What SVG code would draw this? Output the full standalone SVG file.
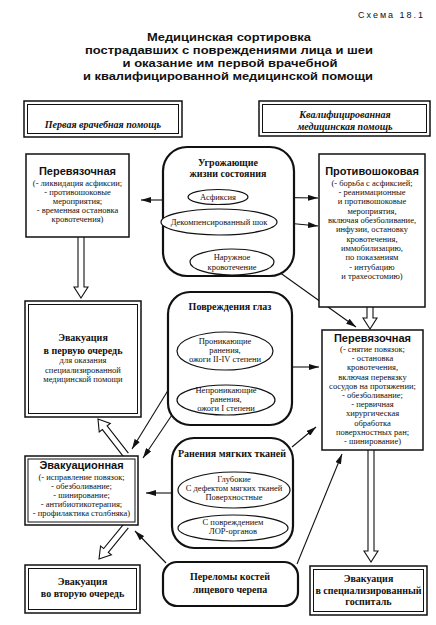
<svg xmlns="http://www.w3.org/2000/svg" width="436" height="625" viewBox="0 0 436 625">
<defs>
<marker id="ah" viewBox="0 0 10 6" refX="10" refY="3" markerWidth="10" markerHeight="6" markerUnits="userSpaceOnUse" orient="auto">
<path d="M0,0 L10,3 L0,6 Z" fill="#111"/>
</marker>
</defs>
<style>
.bg{fill:#fff}
.box{fill:#fff;stroke:#111;stroke-width:1.5}
.thin{fill:none;stroke:#111;stroke-width:1}
.rbox{fill:#fff;stroke:#111;stroke-width:2.2}
.ell{fill:#fff;stroke:#111;stroke-width:1.2}
.ln{fill:none;stroke:#111;stroke-width:1.1;marker-end:url(#ah)}
.dbl{fill:#fff;stroke:#111;stroke-width:1.1}
.ttl{font-family:"Liberation Sans",Arial,sans-serif;font-weight:bold;font-size:11.2px;fill:#111;text-anchor:middle}
.sch{font-family:"Liberation Sans",Arial,sans-serif;font-size:9px;fill:#111;letter-spacing:2px}
.hdr{font-family:"Liberation Serif","Times New Roman",serif;font-weight:bold;font-style:italic;font-size:10px;fill:#111;text-anchor:middle}
.bh{font-family:"Liberation Sans",Arial,sans-serif;font-weight:bold;font-size:11px;fill:#111;text-anchor:middle}
.bs{font-family:"Liberation Serif","Times New Roman",serif;font-weight:bold;font-size:10px;fill:#111;text-anchor:middle}
.t{font-family:"Liberation Serif","Times New Roman",serif;font-size:8.5px;fill:#111;text-anchor:middle}
</style>
<rect class="bg" x="0" y="0" width="436" height="625"/>

<g id="title">
<text class="sch" x="358" y="18">Схема 18.1</text>
<text class="ttl" x="229" y="41" textLength="164" lengthAdjust="spacingAndGlyphs">Медицинская сортировка</text>
<text class="ttl" x="229" y="54" textLength="288" lengthAdjust="spacingAndGlyphs">пострадавших с повреждениями лица и шеи</text>
<text class="ttl" x="230" y="67" textLength="215" lengthAdjust="spacingAndGlyphs">и оказание им первой врачебной</text>
<text class="ttl" x="228" y="80" textLength="290" lengthAdjust="spacingAndGlyphs">и квалифицированной медицинской помощи</text>
</g>

<g id="hdr-first">
<rect class="box" x="24" y="101" width="158" height="36"/>
<rect class="thin" x="27.5" y="104.5" width="151" height="29"/>
<text class="hdr" x="103" y="128">Первая врачебная помощь</text>
</g>
<g id="hdr-qual">
<rect class="box" x="259" y="101" width="171" height="35"/>
<rect class="thin" x="262.5" y="104.5" width="164" height="28"/>
<text class="hdr" x="345" y="118">Квалифицированная</text>
<text class="hdr" x="345" y="130">медицинская помощь</text>
</g>

<g id="connectors">
<path class="dbl" transform="translate(81,237) rotate(90)" d="M0,-3 L50,-3 L50,-7 L61,0 L50,7 L50,3 L0,3"/>
<path class="dbl" transform="translate(370,307) rotate(90)" d="M0,-3 L11,-3 L11,-7 L22,0 L11,7 L11,3 L0,3"/>
<path class="dbl" transform="translate(371,450) rotate(90)" d="M0,-3 L101,-3 L101,-7 L112,0 L101,7 L101,3 L0,3"/>
<path class="dbl" transform="translate(126,455) rotate(-127.9)" d="M0,-3 L34.6,-3 L34.6,-7 L45.6,0 L34.6,7 L34.6,3 L0,3"/>
<path class="dbl" transform="translate(126,526) rotate(129.3)" d="M0,-3 L31.6,-3 L31.6,-7 L42.6,0 L31.6,7 L31.6,3 L0,3"/>
<line class="ln" x1="163" y1="200" x2="141" y2="200"/>
<line class="ln" x1="248" y1="197" x2="318" y2="198"/>
<line class="ln" x1="276" y1="222" x2="318" y2="226"/>
<line class="ln" x1="272" y1="267" x2="356" y2="327"/>
<line class="ln" x1="292" y1="367" x2="319" y2="367"/>
<line class="ln" x1="292" y1="447" x2="316" y2="427"/>
<line class="ln" x1="297" y1="564" x2="342" y2="454"/>
<line class="ln" x1="183" y1="366" x2="132" y2="449"/>
<line class="ln" x1="178" y1="406" x2="143" y2="458"/>
<line class="ln" x1="172" y1="493" x2="146" y2="493"/>
<line class="ln" x1="166" y1="563" x2="135" y2="531"/>
</g>

<g id="perev-left">
<rect class="box" x="26" y="154" width="103" height="83"/>
<text class="bh" x="77.5" y="175">Перевязочная</text>
<text class="t" x="77.5" y="186">(- ликвидация асфиксии;</text>
<text class="t" x="77.5" y="195">- противошоковые</text>
<text class="t" x="77.5" y="204">мероприятия;</text>
<text class="t" x="77.5" y="213">- временная остановка</text>
<text class="t" x="77.5" y="222">кровотечения)</text>
</g>

<g id="threat">
<rect class="rbox" x="163" y="147" width="131" height="129" rx="24"/>
<text class="bs" x="228" y="166">Угрожающие</text>
<text class="bs" x="228" y="177">жизни состояния</text>
<ellipse class="ell" cx="218" cy="197" rx="30" ry="7.5"/>
<text class="t" x="218" y="200">Асфиксия</text>
<ellipse class="ell" cx="219" cy="222" rx="58" ry="13"/>
<text class="t" x="219" y="225">Декомпенсированный шок</text>
<ellipse class="ell" cx="232" cy="262" rx="42" ry="13"/>
<text class="t" x="232" y="260">Наружное</text>
<text class="t" x="232" y="270">кровотечение</text>
</g>

<g id="antishock">
<rect class="box" x="319" y="154" width="106" height="153"/>
<text class="bh" x="372" y="175">Противошоковая</text>
<text class="t" x="372" y="186">(- борьба с асфиксией;</text>
<text class="t" x="372" y="195">- реанимационные</text>
<text class="t" x="372" y="204">и противошоковые</text>
<text class="t" x="372" y="214">мероприятия,</text>
<text class="t" x="372" y="223">включая обезболивание,</text>
<text class="t" x="372" y="232">инфузии, остановку</text>
<text class="t" x="372" y="242">кровотечения,</text>
<text class="t" x="372" y="251">иммобилизацию,</text>
<text class="t" x="372" y="260">по показаниям</text>
<text class="t" x="372" y="270">- интубацию</text>
<text class="t" x="372" y="279">и трахеостомию)</text>
</g>

<g id="evac-first">
<rect class="box" x="25" y="301" width="116" height="116"/>
<rect class="thin" x="28.5" y="304.5" width="109" height="109"/>
<text class="bs" x="83" y="341">Эвакуация</text>
<text class="bs" x="83" y="354">в первую очередь</text>
<text class="t" x="83" y="363">для оказания</text>
<text class="t" x="83" y="373">специализированной</text>
<text class="t" x="83" y="382">медицинской помощи</text>
</g>

<g id="eyes">
<rect class="rbox" x="168" y="292" width="124" height="133" rx="22"/>
<text class="bs" x="230" y="310">Повреждения глаз</text>
<ellipse class="ell" cx="225" cy="351" rx="48" ry="19"/>
<text class="t" x="225" y="344">Проникающие</text>
<text class="t" x="225" y="353">ранения,</text>
<text class="t" x="225" y="362">ожоги II-IV степени</text>
<ellipse class="ell" cx="226" cy="400" rx="49" ry="15"/>
<text class="t" x="226" y="393">Непроникающие</text>
<text class="t" x="226" y="402">ранения,</text>
<text class="t" x="226" y="411">ожоги I степени</text>
</g>

<g id="perev-right">
<rect class="box" x="322" y="330" width="101" height="120"/>
<text class="bh" x="372.5" y="342">Перевязочная</text>
<text class="t" x="372.5" y="352">(- снятие повязок;</text>
<text class="t" x="372.5" y="361">- остановка</text>
<text class="t" x="372.5" y="370">кровотечения,</text>
<text class="t" x="372.5" y="380">включая перевязку</text>
<text class="t" x="372.5" y="389">сосудов на протяжении;</text>
<text class="t" x="372.5" y="398">- обезболивание;</text>
<text class="t" x="372.5" y="407">- первичная</text>
<text class="t" x="372.5" y="416">хирургическая</text>
<text class="t" x="372.5" y="426">обработка</text>
<text class="t" x="372.5" y="435">поверхностных ран;</text>
<text class="t" x="372.5" y="444">- шинирование)</text>
</g>

<g id="evac-station">
<rect class="box" x="25" y="456" width="113" height="69"/>
<rect class="thin" x="28" y="459" width="107" height="63"/>
<text class="bh" x="81.5" y="469">Эвакуационная</text>
<text class="t" x="81.5" y="480">(- исправление повязок;</text>
<text class="t" x="81.5" y="489">- обезболивание;</text>
<text class="t" x="81.5" y="498">- шинирование;</text>
<text class="t" x="81.5" y="507">- антибиотикотерапия;</text>
<text class="t" x="81.5" y="516">- профилактика столбняка)</text>
</g>

<g id="soft">
<rect class="rbox" x="172" y="438" width="121" height="110" rx="22"/>
<text class="bs" x="232" y="457">Ранения мягких тканей</text>
<ellipse class="ell" cx="234" cy="490" rx="56" ry="18"/>
<text class="t" x="234" y="482">Глубокие</text>
<text class="t" x="234" y="491">С дефектом мягких тканей</text>
<text class="t" x="234" y="500">Поверхностные</text>
<ellipse class="ell" cx="233" cy="528" rx="55" ry="13"/>
<text class="t" x="233" y="525">С повреждением</text>
<text class="t" x="233" y="534">ЛОР-органов</text>
</g>

<g id="fractures">
<rect class="rbox" x="163" y="562" width="135" height="44" rx="14"/>
<text class="bs" x="230" y="580">Переломы костей</text>
<text class="bs" x="230" y="593">лицевого черепа</text>
</g>

<g id="evac-second">
<rect class="box" x="25" y="565" width="115" height="48"/>
<rect class="thin" x="28.5" y="568.5" width="108" height="41"/>
<text class="bs" x="82.5" y="585">Эвакуация</text>
<text class="bs" x="82.5" y="597">во вторую очередь</text>
</g>

<g id="evac-hosp">
<rect class="box" x="310" y="566" width="117" height="49"/>
<rect class="thin" x="313.5" y="569.5" width="110" height="42"/>
<text class="bs" x="368.5" y="582">Эвакуация</text>
<text class="bs" x="368.5" y="594">в специализированный</text>
<text class="bs" x="368.5" y="605">госпиталь</text>
</g>
</svg>
